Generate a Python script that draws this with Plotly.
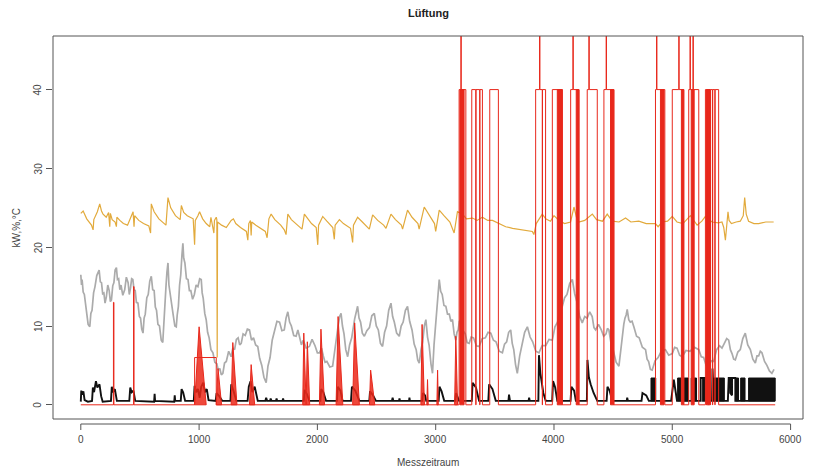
import plotly.graph_objects as go

# ---------------- data ----------------
x_ticks = [0, 1000, 2000, 3000, 4000, 5000, 6000]
y_ticks = [0, 10, 20, 30, 40]

orange_t = [0, 20, 50, 90, 104, 110, 140, 160, 175, 188, 215, 235, 245, 250, 265, 290, 301, 305, 330, 360, 395, 420, 442, 450, 455, 490, 530, 575, 590, 596, 620, 660, 700, 720, 737, 760, 800, 840, 850, 870, 900, 950, 962, 968, 990, 1004, 1030, 1060, 1090, 1100, 1125, 1130, 1145, 1150, 1153, 1156, 1190, 1230, 1271, 1290, 1310, 1350, 1400, 1412, 1420, 1434, 1440, 1445, 1480, 1520, 1560, 1575, 1590, 1609, 1640, 1690, 1720, 1735, 1750, 1780, 1830, 1870, 1890, 1904, 1950, 1990, 2003, 2010, 2045, 2080, 2130, 2143, 2150, 2186, 2220, 2280, 2298, 2305, 2340, 2380, 2430, 2439, 2467, 2510, 2560, 2580, 2622, 2660, 2710, 2720, 2762, 2800, 2850, 2860, 2903, 2940, 2990, 3000, 3030, 3070, 3120, 3156, 3184, 3226, 3260, 3311, 3350, 3395, 3440, 3480, 3530, 3592, 3650, 3700, 3780, 3817, 3830, 3850, 3901, 3930, 3970, 4000, 4042, 4090, 4140, 4169, 4190, 4211, 4260, 4324, 4360, 4410, 4450, 4492, 4550, 4605, 4650, 4717, 4780, 4858, 4880, 4914, 4960, 5000, 5040, 5090, 5153, 5210, 5250, 5280, 5336, 5390, 5420, 5435, 5449, 5460, 5471, 5480, 5500, 5540, 5575, 5600, 5612, 5625, 5645, 5690, 5730, 5790, 5857]
orange_v = [24.3, 24.6, 23.6, 22.8, 22.2, 23.5, 24.5, 25.5, 24.6, 24.2, 23.8, 24.4, 22.6, 24.3, 23.5, 23.2, 22.6, 23.8, 23.4, 23.0, 22.8, 23.6, 24.5, 22.6, 24.0, 23.4, 23.0, 22.7, 21.8, 25.5, 24.5, 23.6, 23.0, 22.8, 26.3, 25.0, 24.0, 23.5, 25.3, 24.4, 24.0, 23.6, 20.3, 23.4, 24.0, 24.5, 23.6, 23.0, 22.6, 23.8, 21.8, 23.4, 23.8, 23.5, 6.0, 23.2, 22.8, 22.5, 23.4, 23.6, 23.0, 22.5, 22.0, 20.9, 23.0, 23.4, 21.5, 23.2, 22.8, 22.4, 22.0, 21.2, 23.6, 24.2, 23.5, 22.8, 22.2, 21.6, 24.2, 23.5, 22.8, 22.3, 24.2, 23.9, 23.0, 22.5, 20.3, 22.8, 23.9, 23.3, 22.5, 21.0, 22.8, 23.5, 23.0, 22.4, 20.6, 22.8, 23.8, 23.2, 22.5, 22.3, 24.1, 23.4, 22.8, 22.4, 24.2, 23.5, 22.8, 22.3, 24.7, 23.8, 23.0, 22.3, 25.1, 24.2, 23.0, 22.0, 24.7, 24.0, 23.2, 21.8, 24.5, 24.2, 23.6, 23.7, 23.4, 23.8, 23.4, 23.4, 23.0, 22.6, 22.4, 22.3, 22.1, 22.0, 21.6, 23.0, 24.2, 23.6, 23.3, 24.0, 23.4, 23.0, 23.2, 25.1, 23.8, 23.2, 23.4, 24.2, 23.5, 23.3, 24.2, 23.3, 23.2, 23.7, 23.2, 23.3, 23.0, 23.0, 22.6, 23.2, 23.3, 23.9, 23.2, 23.0, 24.0, 22.8, 23.3, 23.9, 23.2, 23.1, 23.2, 22.5, 20.9, 22.8, 24.5, 23.4, 23.0, 23.2, 23.3, 24.0, 26.3, 24.2, 23.3, 23.0, 23.0, 23.2, 23.2]

gray_t = [0, 6, 11, 20, 30, 40, 50, 62, 76, 85, 95, 108, 120, 135, 155, 165, 175, 185, 195, 205, 216, 228, 240, 250, 259, 270, 280, 290, 301, 310, 320, 330, 340, 355, 371, 385, 400, 410, 420, 430, 440, 450, 460, 470, 483, 495, 505, 515, 526, 535, 545, 558, 570, 583, 596, 608, 620, 630, 640, 652, 665, 680, 693, 700, 705, 712, 720, 728, 737, 745, 755, 768, 780, 795, 807, 815, 825, 835, 845, 855, 863, 870, 880, 893, 906, 918, 930, 945, 960, 975, 990, 1005, 1018, 1026, 1035, 1048, 1060, 1072, 1085, 1100, 1117, 1133, 1150, 1162, 1175, 1188, 1201, 1215, 1230, 1250, 1271, 1285, 1300, 1315, 1330, 1343, 1356, 1372, 1390, 1408, 1426, 1443, 1460, 1478, 1496, 1512, 1530, 1548, 1567, 1582, 1600, 1618, 1637, 1658, 1680, 1700, 1720, 1735, 1750, 1765, 1780, 1800, 1820, 1835, 1848, 1865, 1880, 1905, 1932, 1955, 1980, 2000, 2017, 2035, 2050, 2065, 2080, 2105, 2129, 2140, 2150, 2162, 2175, 2188, 2200, 2212, 2225, 2240, 2256, 2272, 2290, 2315, 2340, 2352, 2365, 2380, 2397, 2418, 2440, 2460, 2481, 2498, 2515, 2533, 2551, 2568, 2585, 2603, 2622, 2636, 2650, 2670, 2692, 2708, 2725, 2744, 2762, 2780, 2800, 2818, 2835, 2848, 2861, 2876, 2890, 2904, 2917, 2931, 2945, 2960, 2973, 2986, 3000, 3015, 3030, 3042, 3055, 3070, 3086, 3100, 3115, 3128, 3142, 3156, 3170, 3180, 3190, 3200, 3213, 3232, 3250, 3266, 3283, 3300, 3320, 3344, 3367, 3393, 3420, 3443, 3466, 3488, 3510, 3537, 3564, 3582, 3600, 3617, 3634, 3647, 3660, 3675, 3690, 3710, 3730, 3752, 3775, 3798, 3820, 3846, 3873, 3900, 3930, 3958, 3986, 4008, 4030, 4050, 4070, 4090, 4110, 4133, 4155, 4175, 4195, 4217, 4239, 4260, 4280, 4302, 4323, 4338, 4352, 4376, 4400, 4420, 4440, 4452, 4464, 4482, 4500, 4525, 4549, 4565, 4580, 4590, 4600, 4610, 4619, 4632, 4645, 4660, 4675, 4698, 4720, 4747, 4774, 4787, 4800, 4815, 4830, 4855, 4880, 4910, 4942, 4970, 5000, 5020, 5040, 5062, 5083, 5116, 5150, 5187, 5224, 5245, 5265, 5286, 5308, 5330, 5350, 5375, 5400, 5420, 5440, 5460, 5477, 5491, 5505, 5519, 5533, 5554, 5575, 5596, 5617, 5638, 5660, 5681, 5702, 5716, 5730, 5744, 5758, 5780, 5800, 5821, 5842, 5860]
gray_v = [16.5, 15.2, 15.9, 14.3, 14.0, 12.9, 11.5, 10.2, 9.9, 11.6, 12.0, 14.2, 15.0, 16.4, 17.1, 15.6, 15.5, 14.1, 14.2, 12.9, 13.7, 15.2, 14.5, 13.1, 13.3, 15.1, 15.5, 17.1, 17.4, 15.9, 16.0, 14.6, 15.2, 13.9, 14.6, 16.2, 15.5, 14.0, 14.8, 16.0, 15.9, 14.6, 14.5, 13.0, 12.9, 11.2, 11.0, 9.6, 9.1, 11.0, 11.5, 13.6, 14.0, 15.7, 16.3, 14.6, 14.5, 12.4, 12.0, 10.2, 10.0, 8.2, 7.9, 10.2, 11.0, 13.9, 15.0, 16.8, 18.0, 15.2, 14.0, 12.2, 11.5, 10.0, 9.9, 11.4, 12.5, 15.2, 16.5, 19.0, 20.5, 18.6, 18.0, 16.0, 15.9, 14.5, 14.5, 13.4, 14.0, 15.2, 15.0, 16.0, 15.9, 14.2, 13.5, 11.6, 10.8, 9.2, 8.5, 7.0, 6.6, 5.4, 5.2, 4.4, 4.6, 3.8, 4.0, 5.3, 5.5, 6.8, 6.1, 7.2, 7.0, 8.3, 8.5, 7.6, 7.8, 9.0, 8.8, 9.6, 9.5, 8.2, 8.5, 7.6, 7.4, 5.9, 5.0, 3.5, 2.8, 4.9, 6.0, 8.2, 9.5, 10.6, 10.5, 9.4, 9.5, 11.0, 11.8, 10.5, 10.0, 8.8, 8.7, 9.5, 8.7, 7.6, 8.2, 7.2, 7.4, 8.3, 7.5, 6.6, 6.6, 7.2, 6.2, 5.4, 5.5, 4.8, 4.9, 6.3, 7.0, 9.0, 10.0, 11.2, 11.6, 10.0, 9.0, 7.0, 6.1, 7.6, 8.5, 10.9, 12.5, 11.0, 10.5, 9.1, 8.7, 9.4, 9.8, 11.3, 11.6, 10.0, 9.5, 7.8, 7.4, 9.2, 10.0, 12.0, 12.9, 11.2, 10.5, 9.1, 8.7, 10.0, 10.5, 12.0, 12.5, 10.6, 9.5, 7.7, 7.0, 5.7, 5.3, 7.0, 8.0, 10.0, 10.8, 8.6, 7.5, 5.2, 4.0, 7.6, 10.0, 13.4, 15.9, 14.4, 14.0, 12.6, 12.5, 11.5, 11.5, 10.6, 10.8, 9.0, 8.2, 9.2, 9.5, 10.6, 10.8, 9.4, 9.0, 7.9, 7.8, 8.6, 8.5, 7.5, 7.4, 8.4, 8.5, 9.2, 9.1, 8.2, 8.0, 6.8, 6.6, 7.7, 8.0, 9.2, 9.5, 7.8, 7.0, 5.1, 4.0, 6.2, 7.5, 9.2, 9.9, 8.6, 8.0, 6.8, 6.6, 7.5, 7.5, 8.3, 8.2, 9.9, 10.5, 12.0, 12.5, 13.6, 14.0, 15.4, 15.9, 14.1, 13.0, 11.2, 10.4, 11.2, 11.0, 11.8, 11.2, 9.8, 9.5, 10.2, 9.5, 8.7, 9.0, 9.7, 9.5, 7.8, 7.0, 5.4, 4.9, 7.2, 8.5, 10.2, 11.0, 11.4, 12.1, 10.8, 10.5, 10.6, 9.9, 8.7, 8.5, 7.3, 7.0, 5.8, 5.5, 4.5, 4.4, 5.6, 6.0, 6.9, 7.0, 6.3, 6.5, 7.3, 7.2, 6.3, 6.1, 6.9, 6.8, 7.3, 7.0, 6.1, 6.0, 5.0, 4.9, 5.6, 5.5, 7.0, 7.5, 7.2, 7.8, 8.4, 8.2, 7.0, 6.5, 5.8, 5.7, 6.7, 7.0, 8.4, 9.1, 7.6, 7.0, 5.8, 5.3, 6.2, 6.2, 6.8, 6.6, 5.5, 5.0, 4.3, 4.0, 4.5]

black_t = [0, 4, 12, 22, 32, 60, 95, 102, 112, 128, 140, 158, 172, 185, 255, 262, 272, 288, 305, 410, 418, 430, 445, 460, 620, 624, 628, 790, 794, 798, 845, 852, 865, 882, 955, 962, 975, 990, 1005, 1018, 1035, 1050, 1065, 1080, 1140, 1148, 1170, 1195, 1265, 1272, 1290, 1315, 1410, 1420, 1435, 1450, 1470, 1496, 1560, 1567, 1575, 1600, 1605, 1612, 1650, 1655, 1660, 1705, 1710, 1715, 1885, 1892, 1910, 1932, 2025, 2032, 2050, 2073, 2165, 2172, 2195, 2213, 2284, 2292, 2320, 2355, 2439, 2445, 2470, 2495, 2630, 2636, 2642, 2690, 2694, 2698, 2775, 2778, 2782, 2885, 2892, 2910, 2920, 3025, 3032, 3050, 3072, 3165, 3172, 3198, 3305, 3312, 3340, 3367, 3445, 3452, 3480, 3508, 3615, 3620, 3628, 3785, 3790, 3795, 3868, 3873, 3885, 3895, 3910, 3930, 3985, 3992, 4010, 4028, 4140, 4147, 4170, 4185, 4278, 4283, 4295, 4310, 4335, 4366, 4445, 4452, 4470, 4492, 4615, 4619, 4625, 4740, 4748, 4780, 4802, 4990, 5000, 5013, 5030, 5040, 5240, 5240, 5260, 5260, 5275, 5275, 5294, 5294, 5336, 5340, 5348, 5350, 5470, 5477, 5490, 5490, 5505, 5505, 5533, 5533, 5870]
black_v = [0.4, 1.8, 1.3, 1.7, 0.6, 0.4, 0.5, 2.2, 1.6, 3.0, 2.2, 2.6, 1.1, 0.4, 0.5, 2.3, 1.6, 2.0, 0.5, 0.5, 2.2, 1.6, 1.8, 0.5, 0.4, 1.4, 0.5, 0.4, 1.2, 0.5, 0.5, 2.0, 1.6, 0.5, 0.5, 2.4, 1.6, 2.0, 0.9, 2.3, 2.8, 1.6, 2.0, 0.6, 0.5, 1.5, 1.1, 0.5, 0.5, 2.6, 1.8, 0.5, 0.5, 2.3, 3.0, 1.6, 2.3, 0.5, 0.5, 0.9, 0.5, 0.5, 0.8, 0.5, 0.5, 0.8, 0.5, 0.5, 0.8, 0.5, 0.5, 1.9, 1.4, 0.5, 0.5, 2.0, 1.6, 0.5, 0.5, 2.3, 1.8, 0.5, 0.5, 2.3, 1.8, 0.5, 0.5, 1.7, 1.2, 0.5, 0.5, 0.9, 0.5, 0.5, 0.8, 0.5, 0.5, 0.9, 0.5, 0.5, 1.5, 1.2, 0.5, 0.5, 2.3, 1.7, 0.5, 0.5, 1.5, 0.5, 0.5, 2.8, 2.2, 0.5, 0.5, 2.6, 2.0, 0.5, 0.5, 1.3, 0.5, 0.5, 0.9, 0.5, 0.5, 6.3, 4.0, 3.0, 1.5, 0.5, 0.5, 3.0, 2.2, 0.5, 0.5, 2.3, 1.8, 0.5, 0.5, 5.7, 3.5, 2.6, 1.5, 0.5, 0.5, 2.3, 1.8, 0.5, 0.5, 0.9, 0.5, 0.5, 1.5, 1.2, 0.5, 0.5, 1.8, 3.2, 1.5, 0.5, 0.5, 3.4, 3.4, 0.5, 0.5, 3.4, 3.4, 0.5, 0.5, 4.6, 2.0, 0.5, 0.5, 3.4, 3.4, 1.5, 1.2, 3.4, 3.4, 0.5, 0.5]

# dense on/off periods of the black series (drawn as solid blocks)
black_blk_start = [4820, 5045, 5090, 5160, 5350, 5535, 5578, 5645]
black_blk_end = [4860, 5075, 5135, 5205, 5440, 5560, 5615, 5870]
black_blk_low = [0.5, 0.5, 0.5, 0.5, 0.5, 0.5, 0.5, 0.5]
black_blk_top = [3.4, 3.4, 3.4, 3.4, 3.4, 3.4, 3.4, 3.4]

# red step series (value holds until next time)
red_t = [0, 276, 280, 446, 450, 962, 1145,
         3198, 3213, 3216, 3255, 3305, 3339, 3341, 3372, 3374, 3395, 3457, 3530,
         3845, 3878, 3881, 3901, 3903, 3929, 3986, 4070,
         4141, 4160, 4163, 4211, 4281, 4295, 4298, 4366,
         4422, 4441, 4444, 4506, 4858, 4867, 4870, 4937,
         5000, 5055, 5058, 5097, 5139, 5150, 5153, 5175, 5178, 5224,
         5280, 5288, 5290, 5305, 5307, 5322, 5324, 5340, 5342, 5360, 5362, 5392, 5870]
red_v = [0, 13, 0, 15, 0, 6, 0,
         40, 50, 40, 0, 40, 0, 40, 0, 40, 0, 40, 0,
         40, 50, 40, 0, 40, 0, 40, 0,
         40, 50, 40, 0, 40, 50, 40, 0,
         40, 50, 40, 0, 40, 50, 40, 0,
         40, 50, 40, 0, 40, 50, 40, 50, 40, 0,
         40, 0, 40, 0, 40, 0, 40, 0, 40, 0, 40, 0, 0]

# dense red bursts before the 40-level period (start, peak time, end, height)
red_cl_start = [962, 1145, 1271, 1426, 1876, 1905, 2017, 2158, 2298, 2440, 2875, 2925, 3010, 3160]
red_cl_peak = [1000, 1160, 1285, 1440, 1885, 1915, 2030, 2175, 2315, 2450, 2885, 2931, 3016, 3170]
red_cl_end = [1060, 1190, 1320, 1470, 1905, 1935, 2060, 2215, 2355, 2485, 2905, 2937, 3022, 3185]
red_cl_h = [9.9, 4.6, 7.9, 5.1, 9.1, 8.0, 9.6, 11.2, 10.4, 4.4, 10.2, 3.2, 4.4, 8.7]

# dense 0/40 switching bands
red_blk_start = [3205, 4028, 4188, 4478, 4900, 5077, 5160, 5290]
red_blk_end = [3240, 4070, 4211, 4506, 4930, 5097, 5185, 5320]
red_blk_top = [40, 40, 40, 40, 40, 40, 40, 40]

# ---------------- figure ----------------
RED = '#e8281c'
fig = go.Figure()

fig.add_trace(go.Scatter(x=gray_t, y=gray_v, mode='lines',
                         line=dict(color='#ababab', width=1.7), hoverinfo='skip'))
fig.add_trace(go.Scatter(x=orange_t, y=orange_v, mode='lines',
                         line=dict(color='#e2aa3c', width=1.2), hoverinfo='skip'))
fig.add_trace(go.Scatter(x=black_t, y=black_v, mode='lines',
                         line=dict(color='#111111', width=1.9), hoverinfo='skip'))

bx, by = [], []
for a, b, lo, hi in zip(black_blk_start, black_blk_end, black_blk_low, black_blk_top):
    bx += [a, a, b, b, a, None]
    by += [lo, hi, hi, lo, lo, None]
fig.add_trace(go.Scatter(x=bx, y=by, mode='lines', fill='toself', fillcolor='#111111',
                         line=dict(color='#111111', width=1), hoverinfo='skip'))

cx, cy = [], []
for a, p, b, h in zip(red_cl_start, red_cl_peak, red_cl_end, red_cl_h):
    cx += [a, p, b, a, None]
    cy += [0, h, 0, 0, None]
fig.add_trace(go.Scatter(x=cx, y=cy, mode='lines', fill='toself', fillcolor='rgba(235,40,25,0.85)',
                         line=dict(color=RED, width=1), hoverinfo='skip'))

rx, ry = [], []
for a, b, h in zip(red_blk_start, red_blk_end, red_blk_top):
    rx += [a, a, b, b, a, None]
    ry += [0, h, h, 0, 0, None]
fig.add_trace(go.Scatter(x=rx, y=ry, mode='lines', fill='toself', fillcolor=RED,
                         line=dict(color=RED, width=1), hoverinfo='skip'))

fig.add_trace(go.Scatter(x=red_t, y=red_v, mode='lines', line_shape='hv',
                         line=dict(color=RED, width=1), hoverinfo='skip'))

# pixel helpers (plot area is 750 x 383 px)
PW, PH = 750.0, 383.0
AX = '#555555'
ax_y = -5 / PH
tick_end = ax_y - 6 / PH

shapes = [dict(type='rect', xref='paper', yref='paper', x0=0, x1=1, y0=0, y1=1,
               line=dict(color=AX, width=1))]
shapes.append(dict(type='line', xref='x', yref='paper', x0=x_ticks[0], x1=x_ticks[-1],
                   y0=ax_y, y1=ax_y, line=dict(color=AX, width=1)))
annotations = []
for t in x_ticks:
    shapes.append(dict(type='line', xref='x', yref='paper', x0=t, x1=t, y0=ax_y, y1=tick_end,
                       line=dict(color=AX, width=1)))
    annotations.append(dict(x=t, y=-20 / PH, xref='x', yref='paper', text=str(t), showarrow=False,
                            xanchor='center', yanchor='middle', font=dict(size=10, color='#444444')))
for v in y_ticks:
    annotations.append(dict(x=-15 / PW, y=v, xref='paper', yref='y', text=str(v), showarrow=False,
                            textangle=-90, xanchor='center', yanchor='middle',
                            font=dict(size=10, color='#444444')))

annotations.append(dict(x=0.5, y=1 + 23 / PH, xref='paper', yref='paper', text='<b>Lüftung</b>',
                        showarrow=False, xanchor='center', yanchor='middle',
                        font=dict(size=11, color='#222222')))
annotations.append(dict(x=0.5, y=-44 / PH, xref='paper', yref='paper', text='Messzeitraum',
                        showarrow=False, xanchor='center', yanchor='middle',
                        font=dict(size=10, color='#444444')))
annotations.append(dict(x=-37 / PW, y=0.5, xref='paper', yref='paper', text='kW,%,°C',
                        textangle=-90, showarrow=False, xanchor='center', yanchor='middle',
                        font=dict(size=10, color='#444444')))

fig.update_layout(
    width=813, height=470,
    margin=dict(l=45, r=18, t=28, b=59),
    paper_bgcolor='white', plot_bgcolor='white',
    showlegend=False,
    font=dict(family='Liberation Sans, Arial, sans-serif', size=10, color='#444444'),
    xaxis=dict(range=[-235, 6105], showgrid=False, zeroline=False, showline=False,
               showticklabels=False, ticks=''),
    yaxis=dict(range=[-1.8, 46.8], showgrid=False, zeroline=False, showline=False,
               tickmode='array', tickvals=y_ticks, showticklabels=False,
               ticks='outside', ticklen=6, tickcolor=AX),
    shapes=shapes, annotations=annotations,
)

fig.write_html('out.html')
